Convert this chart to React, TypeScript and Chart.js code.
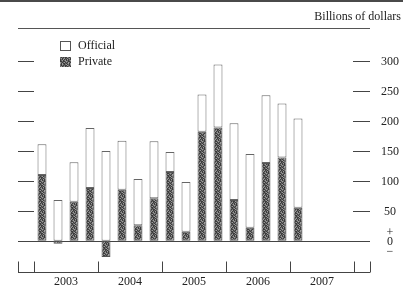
import React, { useEffect, useRef } from "react";
import { Chart, registerables } from "chart.js";

Chart.register(...registerables);

const quarters = [
  "",
  "2003 Q1", "2003 Q2", "2003 Q3", "2003 Q4",
  "2004 Q1", "2004 Q2", "2004 Q3", "2004 Q4",
  "2005 Q1", "2005 Q2", "2005 Q3", "2005 Q4",
  "2006 Q1", "2006 Q2", "2006 Q3", "2006 Q4",
  "2007 Q1", "2007 Q2", "2007 Q3", "2007 Q4",
  "",
];
const privateFlows = [110, -5, 65, 88, -27, 85, 26, 71, 115, 15, 182, 189, 68, 22, 130, 139, 55];
const officialFlows = [51, 68, 66, 100, 150, 82, 77, 95, 33, 83, 62, 105, 128, 123, 113, 90, 149];
const years = ["2003", "2004", "2005", "2006", "2007"];
const yTicks = [50, 100, 150, 200, 250, 300];
const unitLabel = "Billions of dollars";
const legendLabels = ["Official", "Private"];

const FONT = "12px 'Liberation Serif', 'DejaVu Serif', serif";

// fixed speckle texture used for the "Private" fill (a style, not data)
const TEXTURE = [
  "dmldmdlm",
  "mddlmdmd",
  "ldmdmldm",
  "dmdldmdl",
  "mldmdmld",
  "dmlmddmd",
  "ldmdlmdm",
  "dmdmldld",
];

function makePattern(): CanvasPattern | string {
  const n = TEXTURE.length;
  const c = document.createElement("canvas");
  c.width = n;
  c.height = n;
  const g = c.getContext("2d");
  if (!g) return "#666";
  const col: Record<string, string> = { d: "#3c3c3c", m: "#6a6a6a", l: "#9c9c9c" };
  for (let y = 0; y < n; y++)
    for (let x = 0; x < n; x++) {
      g.fillStyle = col[TEXTURE[y][x]];
      g.fillRect(x, y, 1, 1);
    }
  return g.createPattern(c, "repeat") || "#666";
}

function pad(arr: number[]): (number | null)[] {
  const out: (number | null)[] = quarters.map(() => null);
  arr.forEach((v, i) => (out[i + 1] = v));
  return out;
}

export default function App() {
  const ref = useRef<HTMLCanvasElement | null>(null);
  useEffect(() => {
    if (!ref.current) return;
    const pattern = makePattern();
    const decor = {
      id: "decor",
      beforeDatasetsDraw(chart: any) {
        const ctx = chart.ctx;
        const { left, right, top, bottom } = chart.chartArea;
        const y = chart.scales.y;
        const x = chart.scales.x;
        ctx.save();
        ctx.fillStyle = "#4a4a4a";
        ctx.fillRect(0, 0, 403, 2);
        ctx.font = FONT;
        ctx.fillStyle = "#222";
        ctx.textAlign = "right";
        ctx.textBaseline = "middle";
        ctx.fillText(unitLabel, 401, 17);
        ctx.strokeStyle = "#555";
        ctx.lineWidth = 1;
        ctx.beginPath();
        ctx.moveTo(left, top + 0.5);
        ctx.lineTo(right, top + 0.5);
        ctx.stroke();
        ctx.strokeStyle = "#444";
        yTicks.forEach((v) => {
          const py = Math.round(y.getPixelForValue(v)) + 0.5;
          ctx.beginPath();
          ctx.moveTo(left, py);
          ctx.lineTo(left + 16, py);
          ctx.moveTo(right - 17, py);
          ctx.lineTo(right, py);
          ctx.stroke();
          ctx.textAlign = "center";
          ctx.fillText(String(v), 390, py);
        });
        const zy = Math.round(y.getPixelForValue(0)) + 0.5;
        ctx.beginPath();
        ctx.moveTo(left, zy);
        ctx.lineTo(right, zy);
        ctx.stroke();
        ctx.textAlign = "center";
        ctx.fillText("+", 390, zy - 9);
        ctx.fillText("0", 390, zy);
        ctx.fillText("\u2212", 390, zy + 10);
        const by = Math.round(bottom) + 0.5;
        ctx.beginPath();
        ctx.moveTo(left, by);
        ctx.lineTo(right, by);
        ctx.stroke();
        const bounds: number[] = [left];
        for (let k = 0; k <= years.length; k++) {
          const a = x.getPixelForValue(4 * k);
          const b = x.getPixelForValue(4 * k + 1);
          bounds.push((a + b) / 2);
        }
        bounds.push(right);
        bounds.forEach((bx) => {
          const px = Math.round(bx) + 0.5;
          ctx.beginPath();
          ctx.moveTo(px, by - 11);
          ctx.lineTo(px, by);
          ctx.stroke();
        });
        ctx.fillStyle = "#222";
        years.forEach((yr, k) => {
          const cx = (x.getPixelForValue(4 * k + 2) + x.getPixelForValue(4 * k + 3)) / 2;
          ctx.fillText(yr, cx, 282);
        });
        ctx.textAlign = "left";
        ctx.fillStyle = "#fff";
        ctx.strokeStyle = "#555";
        ctx.fillRect(60.5, 41.5, 10, 9);
        ctx.strokeRect(60.5, 41.5, 10, 9);
        ctx.fillStyle = pattern as any;
        ctx.fillRect(60, 57, 11, 10);
        ctx.fillStyle = "#222";
        ctx.fillText(legendLabels[0], 78, 46);
        ctx.fillText(legendLabels[1], 78, 62);
        ctx.restore();
      },
    };
    const chart = new Chart(ref.current, {
      type: "bar",
      data: {
        labels: quarters,
        datasets: [
          {
            label: legendLabels[1],
            data: pad(privateFlows),
            backgroundColor: pattern as any,
            borderColor: "#555",
            borderWidth: 1,
            borderSkipped: false,
            barPercentage: 0.56,
            categoryPercentage: 1,
            stack: "s",
          },
          {
            label: legendLabels[0],
            data: pad(officialFlows),
            backgroundColor: "#fff",
            borderColor: "#666",
            borderWidth: 1,
            borderSkipped: false,
            barPercentage: 0.56,
            categoryPercentage: 1,
            stack: "s",
          },
        ],
      },
      options: {
        responsive: false,
        animation: false,
        devicePixelRatio: 1,
        layout: { padding: { left: 18, right: 33, top: 28, bottom: 17 } },
        plugins: { legend: { display: false }, tooltip: { enabled: false } },
        scales: {
          x: { display: false, stacked: true },
          y: { display: false, stacked: true, min: -52, max: 355 },
        },
      },
      plugins: [decor],
    });
    return () => chart.destroy();
  }, []);
  return (
    <div style={{ position: "fixed", left: 0, top: 0, width: 403, height: 289, background: "#fff" }}>
      <canvas ref={ref} width={403} height={289} style={{ display: "block" }} />
    </div>
  );
}
